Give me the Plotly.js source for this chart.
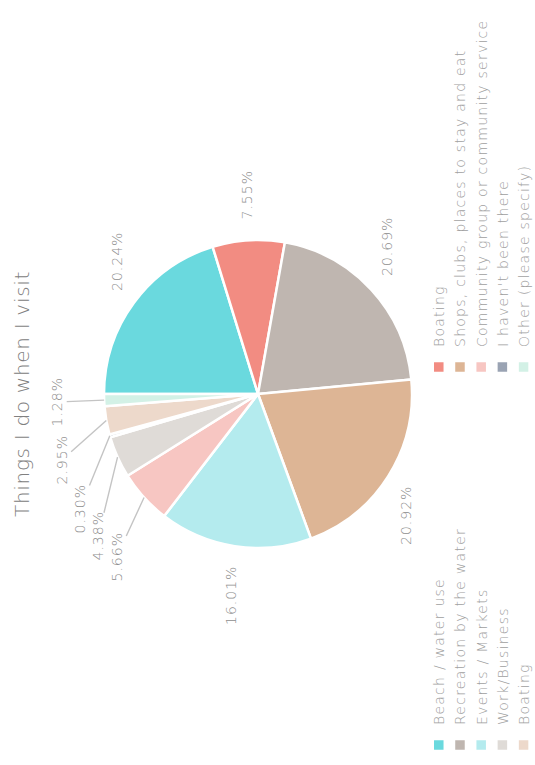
<!DOCTYPE html>
<html>
<head>
<meta charset="utf-8">
<script src="https://cdn.plot.ly/plotly-3.0.1.min.js"></script>
<style>
html,body{margin:0;padding:0;width:535px;height:765px;overflow:hidden;background:#fff;}
#wrap{position:absolute;left:0;top:0;width:765px;height:535px;transform-origin:0 0;transform:translateY(765px) rotate(-90deg);}
#chart{width:765px;height:535px;}
#chart .legendtext{letter-spacing:1.25px;}
#chart .annotation-text{letter-spacing:1.0px;}
#chart .gtitle{letter-spacing:0.7px;}
</style>
</head>
<body>
<div id="wrap"><div id="chart"></div></div>
<script>
const categories = [
  "Beach / water use",
  "Boating",
  "Recreation by the water",
  "Shops, clubs, places to stay and eat",
  "Events / Markets",
  "Community group or community service",
  "Work/Business",
  "I haven't been there",
  "Boating\u200b",
  "Other (please specify)"
];
const values = [20.24, 7.55, 20.69, 20.92, 16.01, 5.66, 4.38, 0.30, 2.95, 1.28];
const colors = ["#6AD9DE", "#F28C82", "#BFB6B0", "#DDB595", "#B4EBEE", "#F7C6C2", "#DFDBD7", "#9AA3B3", "#EDD9CB", "#D3F1E6"];
const titleText = "Things I do when I visit";

const FONT = "DejaVu Sans, sans-serif";
const W = 765, H = 535;
const dom = {x: [0.2837, 0.6863], y: [0.2299, 0.8056]};

// geometry of the pie derived from its domain (same rule Plotly uses)
const cx = (dom.x[0] + dom.x[1]) / 2 * W;
const cy = (1 - (dom.y[0] + dom.y[1]) / 2) * H;
const r = Math.min((dom.x[1] - dom.x[0]) * W, (dom.y[1] - dom.y[0]) * H) / 2;

const total = values.reduce((a, b) => a + b, 0);
const labelText = values.map(v => v.toFixed(2) + "%");

// slice mid angles (clockwise from 12 o'clock)
let cum = 0;
const mids = values.map(v => { const m = (cum + v / 2) / total * 2 * Math.PI; cum += v; return m; });

const SMALL = 7;      // slices below this get a connector line
const hh = 8;
function hwOf(i) { return labelText[i].length * 4.8; }
function placeSmall(i, th) {
  const s = Math.sin(th), c = Math.cos(th);
  const sup = hwOf(i) * Math.abs(s) + hh * Math.abs(c);
  const d = r + 38 + sup;
  return {x: cx + d * s, y: cy - d * c};
}
function overlap(a, ia, b, ib) {
  return Math.abs(a.x - b.x) < hwOf(ia) + hwOf(ib) + 10 && Math.abs(a.y - b.y) < 2 * hh + 2;
}
// resolve collisions among small-slice labels by rotating them counter-clockwise
const smallIdx = values.map((v, i) => i).filter(i => values[i] < SMALL);
const placed = {};
for (let k = smallIdx.length - 1; k >= 0; k--) {
  const i = smallIdx[k];
  let th = mids[i];
  let p = placeSmall(i, th);
  let guard = 0;
  while (Object.keys(placed).some(j => overlap(p, i, placed[j], +j)) && guard < 300) {
    th -= 0.25 * Math.PI / 180; p = placeSmall(i, th); guard++;
  }
  placed[i] = p;
}

const annotations = values.map((v, i) => {
  const th = mids[i], s = Math.sin(th), c = Math.cos(th);
  const ex = cx + r * s, ey = cy - r * c;
  const common = {text: labelText[i], font: {family: FONT, size: 14, color: "#8e8e8e", weight: 200},
                  xref: "paper", yref: "paper"};
  if (v < SMALL) {
    const p = placed[i];
    return Object.assign(common, {x: ex / W, y: 1 - ey / H, showarrow: true, arrowhead: 0,
      arrowwidth: 1.4, arrowcolor: "#c4c4c4", standoff: 0, axref: "pixel", ayref: "pixel",
      ax: p.x - ex, ay: p.y - ey});
  }
  const d = r + 21;
  const px = cx + d * s, py = cy - d * c;
  return Object.assign(common, {x: px / W, y: 1 - py / H, showarrow: false,
    xanchor: s >= 0 ? "left" : "right", yanchor: "middle"});
});

const trace = {
  type: "pie",
  labels: categories,
  values: values,
  sort: false,
  direction: "clockwise",
  rotation: 0,
  marker: {colors: colors, line: {color: "#ffffff", width: 2.5}},
  textinfo: "none",
  domain: dom,
  hoverinfo: "label+percent"
};

const layout = {
  width: W, height: H,
  margin: {l: 0, r: 0, t: 0, b: 0, pad: 0, autoexpand: false},
  paper_bgcolor: "#ffffff",
  font: {family: FONT, color: "#999999", weight: 200},
  title: {text: titleText, x: 0.485, xanchor: "center", y: 0.958, yanchor: "middle", yref: "paper",
          font: {family: FONT, size: 20, color: "#808080", weight: 200}},
  showlegend: true,
  legend: {orientation: "h", x: 0, xanchor: "left", y: 0.209, yanchor: "top",
           entrywidth: 333, entrywidthmode: "pixels", traceorder: "normal",
           font: {family: FONT, size: 14, color: "#a0a0a0", weight: 200}},
  annotations: annotations
};

Plotly.newPlot("chart", [trace], layout, {displayModeBar: false, staticPlot: true});
</script>
</body>
</html>
